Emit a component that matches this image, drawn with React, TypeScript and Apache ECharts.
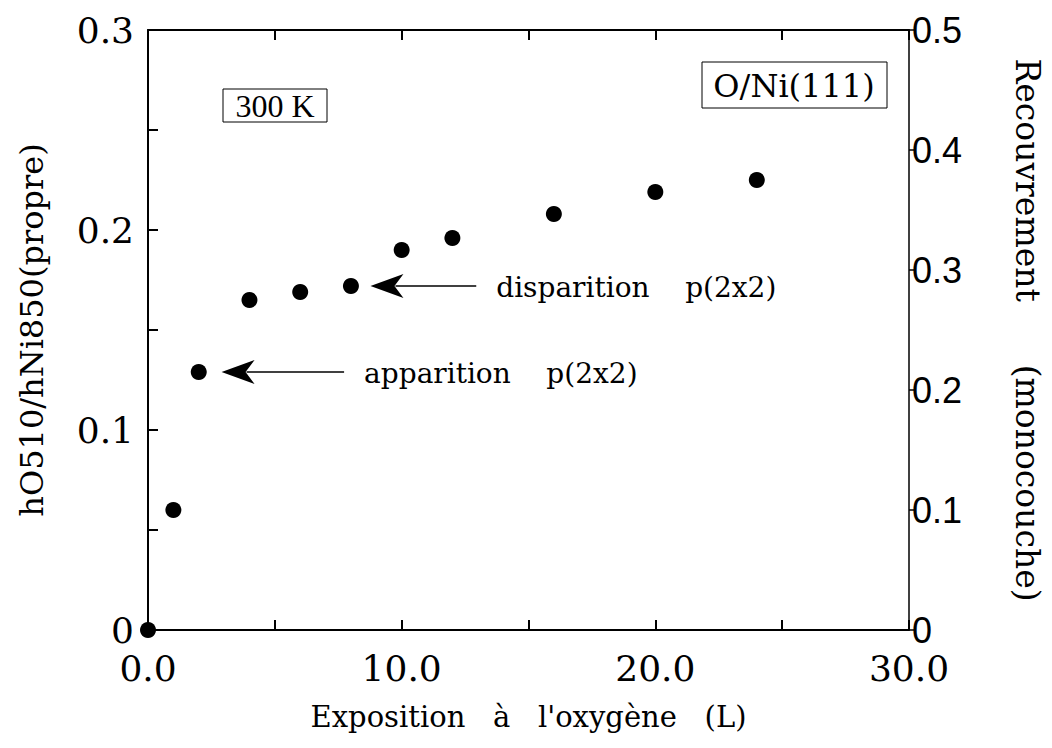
import React, { useEffect, useRef } from "react";
import * as echarts from "echarts";

// Data
const exposure = [0, 1, 2, 4, 6, 8, 10, 12, 16, 20, 24];
const ratio = [0, 0.06, 0.129, 0.165, 0.169, 0.172, 0.19, 0.196, 0.208, 0.219, 0.225];

// Annotation arrows (data coordinates): tail -> tip
const arrowTails = [[12.94, 0.172], [7.73, 0.129]];
const arrowTips = [[8.77, 0.172], [2.9, 0.129]];
const arrowTexts = ["disparition    p(2x2)", "apparition    p(2x2)"];

const xLabelsAt = [0, 10, 20, 30];
const leftLabelsAt = [0, 0.1, 0.2, 0.3];

const SERIF = "DejaVu Serif";
const TIMES = "Liberation Serif";
const SANS = "Liberation Sans";

export default function App() {
  const ref = useRef<HTMLDivElement>(null);

  useEffect(() => {
    if (!ref.current) return;
    const chart = echarts.init(ref.current, null, { renderer: "svg" });
    const axisLine = { show: true, onZero: false, lineStyle: { color: "#000", width: 2 } };

    chart.setOption({
      animation: false,
      backgroundColor: "#fff",
      grid: { left: 148, right: 139, top: 30, bottom: 118, containLabel: false },
      xAxis: [
        {
          type: "value",
          position: "bottom",
          min: 0,
          max: 30,
          interval: 5,
          axisLine,
          axisTick: { show: true, inside: true, length: 10, lineStyle: { color: "#000", width: 2 } },
          splitLine: { show: false },
          axisLabel: {
            color: "#000",
            fontFamily: SERIF,
            fontSize: 36,
            margin: 20,
            hideOverlap: false,
            showMinLabel: true,
            showMaxLabel: true,
            formatter: (v: number) => (xLabelsAt.some((a) => Math.abs(a - v) < 1e-6) ? v.toFixed(1) : ""),
          },
          name: "Exposition   à   l'oxygène   (L)",
          nameLocation: "middle",
          nameGap: 72,
          nameTextStyle: { color: "#000", fontFamily: SERIF, fontSize: 29 },
        },
        {
          type: "value",
          position: "top",
          min: 0,
          max: 30,
          interval: 5,
          axisLine,
          axisTick: { show: true, inside: true, length: 10, lineStyle: { color: "#000", width: 2 } },
          axisLabel: { show: false },
          splitLine: { show: false },
        },
      ],
      yAxis: [
        {
          type: "value",
          position: "left",
          min: 0,
          max: 0.3,
          interval: 0.05,
          axisLine,
          axisTick: { show: true, inside: true, length: 10, lineStyle: { color: "#000", width: 2 } },
          splitLine: { show: false },
          axisLabel: {
            color: "#000",
            fontFamily: SERIF,
            fontSize: 36,
            margin: 14,
            showMinLabel: true,
            showMaxLabel: true,
            formatter: (v: number) => {
              if (!leftLabelsAt.some((a) => Math.abs(a - v) < 1e-6)) return "";
              return v === 0 ? "0" : v.toFixed(1);
            },
          },
          name: "hO510/hNi850(propre)",
          nameLocation: "middle",
          nameGap: 100,
          nameRotate: 90,
          nameTextStyle: { color: "#000", fontFamily: SERIF, fontSize: 32 },
        },
        {
          type: "value",
          position: "right",
          min: 0,
          max: 0.5,
          interval: 0.1,
          axisLine: { show: true, onZero: false, lineStyle: { color: "#000", width: 1.5 } },
          axisTick: { show: true, inside: false, length: 7, lineStyle: { color: "#000", width: 1.5 } },
          splitLine: { show: false },
          axisLabel: {
            color: "#000",
            fontFamily: SANS,
            fontSize: 36,
            margin: 3,
            showMinLabel: true,
            showMaxLabel: true,
            formatter: (v: number) => (v === 0 ? "0" : v.toFixed(1)),
          },
          name: "Recouvrement      (monocouche)",
          nameLocation: "middle",
          nameGap: 102,
          nameRotate: -90,
          nameTextStyle: { color: "#000", fontFamily: SERIF, fontSize: 33 },
        },
      ],
      series: [
        {
          type: "scatter",
          xAxisIndex: 0,
          yAxisIndex: 0,
          data: exposure.map((x, i) => [x, ratio[i]]),
          symbol: "circle",
          symbolSize: 16,
          clip: false,
          itemStyle: { color: "#000", opacity: 1 },
          z: 5,
        },
      ],
    });

    const toPx = (p: number[]) => chart.convertToPixel({ seriesIndex: 0 }, p) as number[];
    const graphics: any[] = [];
    arrowTails.forEach((tail, i) => {
      const t = toPx(tail);
      const h = toPx(arrowTips[i]);
      const L = 33;
      const W = 12;
      graphics.push({
        type: "line",
        shape: { x1: t[0], y1: t[1], x2: h[0] + L - 8, y2: h[1] },
        style: { stroke: "#000", lineWidth: 1.5 },
      });
      graphics.push({
        type: "polygon",
        shape: {
          points: [
            [h[0], h[1]],
            [h[0] + L, h[1] - W],
            [h[0] + L - 9, h[1]],
            [h[0] + L, h[1] + W],
          ],
        },
        style: { fill: "#000" },
      });
      graphics.push({
        type: "text",
        x: t[0] + 20,
        y: t[1] + 1,
        style: {
          text: arrowTexts[i],
          fill: "#000",
          font: `28px "${SERIF}"`,
          textVerticalAlign: "middle",
          verticalAlign: "middle",
        },
      });
    });

    // Boxed labels
    graphics.push({
      type: "rect",
      shape: { x: 223, y: 89, width: 104, height: 33 },
      style: { fill: "#fff", stroke: "#000", lineWidth: 1 },
    });
    graphics.push({
      type: "text",
      x: 275,
      y: 106,
      style: {
        text: "300 K",
        fill: "#000",
        font: `32px "${TIMES}"`,
        align: "center",
        verticalAlign: "middle",
        textAlign: "center",
        textVerticalAlign: "middle",
      },
    });
    graphics.push({
      type: "rect",
      shape: { x: 702, y: 62, width: 185, height: 46 },
      style: { fill: "#fff", stroke: "#000", lineWidth: 1 },
    });
    graphics.push({
      type: "text",
      x: 794,
      y: 86,
      style: {
        text: "O/Ni(111)",
        fill: "#000",
        font: `32px "${SERIF}"`,
        align: "center",
        verticalAlign: "middle",
        textAlign: "center",
        textVerticalAlign: "middle",
      },
    });

    chart.setOption({ graphic: graphics });

    return () => chart.dispose();
  }, []);

  return (
    <div
      ref={ref}
      style={{ position: "absolute", left: 0, top: 0, width: 1052, height: 748, background: "#fff" }}
    />
  );
}
